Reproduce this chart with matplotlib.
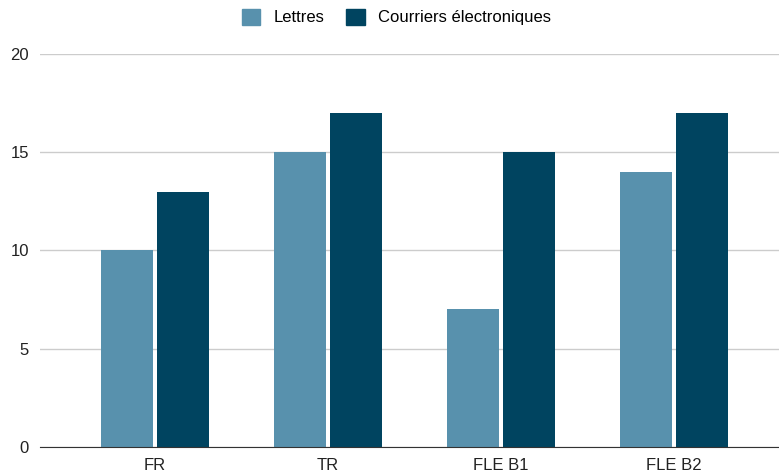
import numpy as np
import matplotlib.pyplot as plt
from matplotlib.patches import Patch

plt.rcParams['font.family'] = ['Liberation Sans', 'DejaVu Sans']

categories = ["FR", "TR", "FLE B1", "FLE B2"]
lettres = [10, 15, 7, 14]
courriers = [13, 17, 15, 17]

c_lettres = "#5891ad"
c_courriers = "#004460"

fig = plt.figure(figsize=(7.79, 4.74), dpi=100)
ax = fig.add_axes([40 / 779, 1 - 447 / 474, 1 - 40 / 779, (447 - 54) / 474])

x = np.arange(len(categories))
w = 0.30
ax.bar(x - 0.162, lettres, w, color=c_lettres, zorder=3)
ax.bar(x + 0.162, courriers, w, color=c_courriers, zorder=3)

ax.set_xlim(-0.665, 3.607)
ax.set_ylim(0, 20)
ax.set_yticks([0, 5, 10, 15, 20])
ax.yaxis.grid(True, color="#cccccc", linewidth=1, zorder=0)
ax.set_xticks(x)
ax.set_xticklabels(categories)
ax.tick_params(axis="both", length=0, labelsize=12, colors="#222222")
ax.tick_params(axis="y", pad=8)
ax.tick_params(axis="x", pad=8)
for s in ["top", "right", "left"]:
    ax.spines[s].set_visible(False)
ax.spines["bottom"].set_color("#333333")
ax.spines["bottom"].set_zorder(4)

handles = [Patch(color=c_lettres, label="Lettres"),
           Patch(color=c_courriers, label="Courriers électroniques")]
fig.legend(handles=handles, loc="center", bbox_to_anchor=(0.5 + 7 / 779, 1 - 17 / 474),
           ncol=2, frameon=False, fontsize=12, handlelength=1.1, handleheight=1.1,
           handletextpad=0.8, columnspacing=1.3)

fig.savefig("out.png", dpi=100)
